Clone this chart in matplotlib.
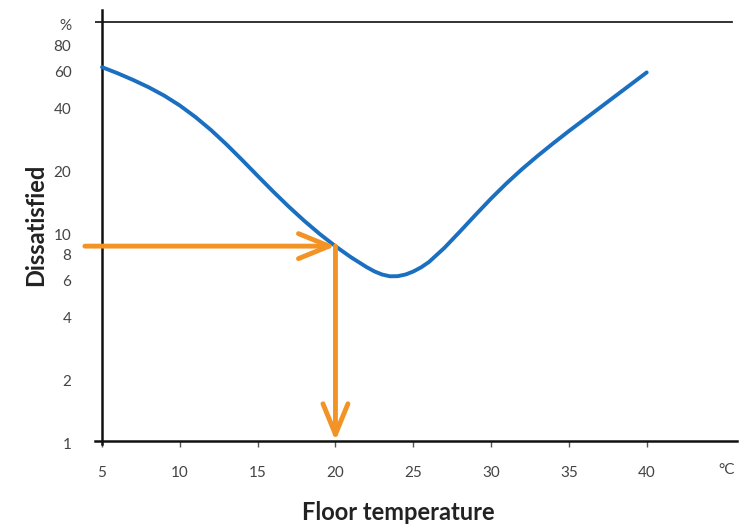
import numpy as np
import matplotlib
matplotlib.use('Agg')
import matplotlib.pyplot as plt
from matplotlib.transforms import ScaledTranslation

# floor temperature (°C) and share of dissatisfied (%)
temperatura = [5, 6, 7, 8, 9, 10, 11, 12, 13, 14, 15, 16, 17, 18, 19, 20, 21, 22,
               22.5, 23, 23.5, 24, 24.5, 25, 25.5, 26, 27, 28, 29, 30, 31, 32, 33,
               34, 35, 36, 37, 38, 39, 40]
insatisfeitos = [60.81, 56.89, 52.84, 48.75, 44.46, 39.90, 35.16, 30.48, 26.00, 21.93,
                 18.41, 15.49, 13.12, 11.22, 9.70, 8.49, 7.52, 6.75,
                 6.44, 6.22, 6.10, 6.11, 6.22, 6.43, 6.73, 7.13, 8.34, 9.98, 11.99,
                 14.35, 16.98, 19.86, 22.96, 26.36, 30.13, 34.28, 38.99, 44.36, 50.47, 57.41]

xticks = [5, 10, 15, 20, 25, 30, 35, 40]
yticks = [1, 2, 4, 6, 8, 10, 20, 40, 60, 80, 100]
yticklabels = ['1', '2', '4', '6', '8', '10', '20', '40', '60', '80', '%']

# reading shown by the orange arrows
temp_exemplo = 20
pct_exemplo = 8.5

azul = '#1b6fc0'
laranja = '#f39325'
cinza = '#444444'

plt.rcParams['font.family'] = ['Lato', 'DejaVu Sans']

fig = plt.figure(figsize=(7.51, 5.25), dpi=100, facecolor='white')
ax = fig.add_axes([95 / 751, 1 - 444 / 525, (737 - 95) / 751, (444 - 10) / 525])

ax.set_yscale('log')
ax.set_xlim(4.55, 45.8)
ax.set_ylim(0.965, 10 ** 2.057)

ax.plot(temperatura, insatisfeitos, color=azul, lw=2.8, solid_capstyle='round',
        solid_joinstyle='round', zorder=3)

# top reference line at 100 %
ax.axhline(100, xmin=0, xmax=(732 - 95) / (737 - 95), color='#222222', lw=1.3)

# axes
for s in ['top', 'right']:
    ax.spines[s].set_visible(False)
ax.spines['left'].set_position(('data', 5))
ax.spines['bottom'].set_position(('data', 1))
ax.spines['left'].set_linewidth(1.8)
ax.spines['bottom'].set_linewidth(1.8)
ax.spines['left'].set_color('#111111')
ax.spines['bottom'].set_color('#111111')

ax.set_xticks(xticks)
ax.set_xticklabels([str(t) for t in xticks])
ax.tick_params(axis='x', direction='out', length=4, width=1, color='#555555',
               labelsize=11, labelcolor=cinza, pad=14)

ax.set_yticks(yticks)
ax.set_yticklabels(yticklabels)
ax.yaxis.set_minor_locator(matplotlib.ticker.FixedLocator([6, 60]))
ax.yaxis.set_minor_formatter(matplotlib.ticker.NullFormatter())
ax.tick_params(axis='y', which='major', length=0, labelsize=11, labelcolor=cinza, pad=22)
ax.tick_params(axis='y', which='minor', length=7, width=1.2, color='#333333')

# labels sit a little below their values in the original
desloca = ScaledTranslation(0, -3 / 100, fig.dpi_scale_trans)
for rotulo in ax.get_yticklabels():
    rotulo.set_transform(rotulo.get_transform() + desloca)

fig.text(727 / 751, 1 - 470 / 525, '°C', ha='center', va='center',
         fontsize=11, color=cinza)

# orange arrows
estilo = '->,head_length=1.1,head_width=0.45'
ax.annotate('', xy=(temp_exemplo, pct_exemplo), xytext=(3.9, pct_exemplo),
            arrowprops=dict(arrowstyle=estilo, lw=3.5, color=laranja, mutation_scale=20,
                            shrinkA=0, shrinkB=0),
            annotation_clip=False, zorder=4)
ax.annotate('', xy=(temp_exemplo, 1), xytext=(temp_exemplo, pct_exemplo),
            arrowprops=dict(arrowstyle=estilo, lw=3.5, color=laranja, mutation_scale=20,
                            shrinkA=0, shrinkB=0),
            annotation_clip=False, zorder=4)

fig.text(36 / 751, 1 - 225 / 525, 'Dissatisfied', rotation=90, ha='center', va='center',
         fontsize=17, fontweight='bold', color='#222222')
fig.text(398 / 751, 1 - 512 / 525, 'Floor temperature', ha='center', va='center',
         fontsize=17, fontweight='bold', color='#222222')

fig.savefig('out.png', dpi=100, facecolor='white')
